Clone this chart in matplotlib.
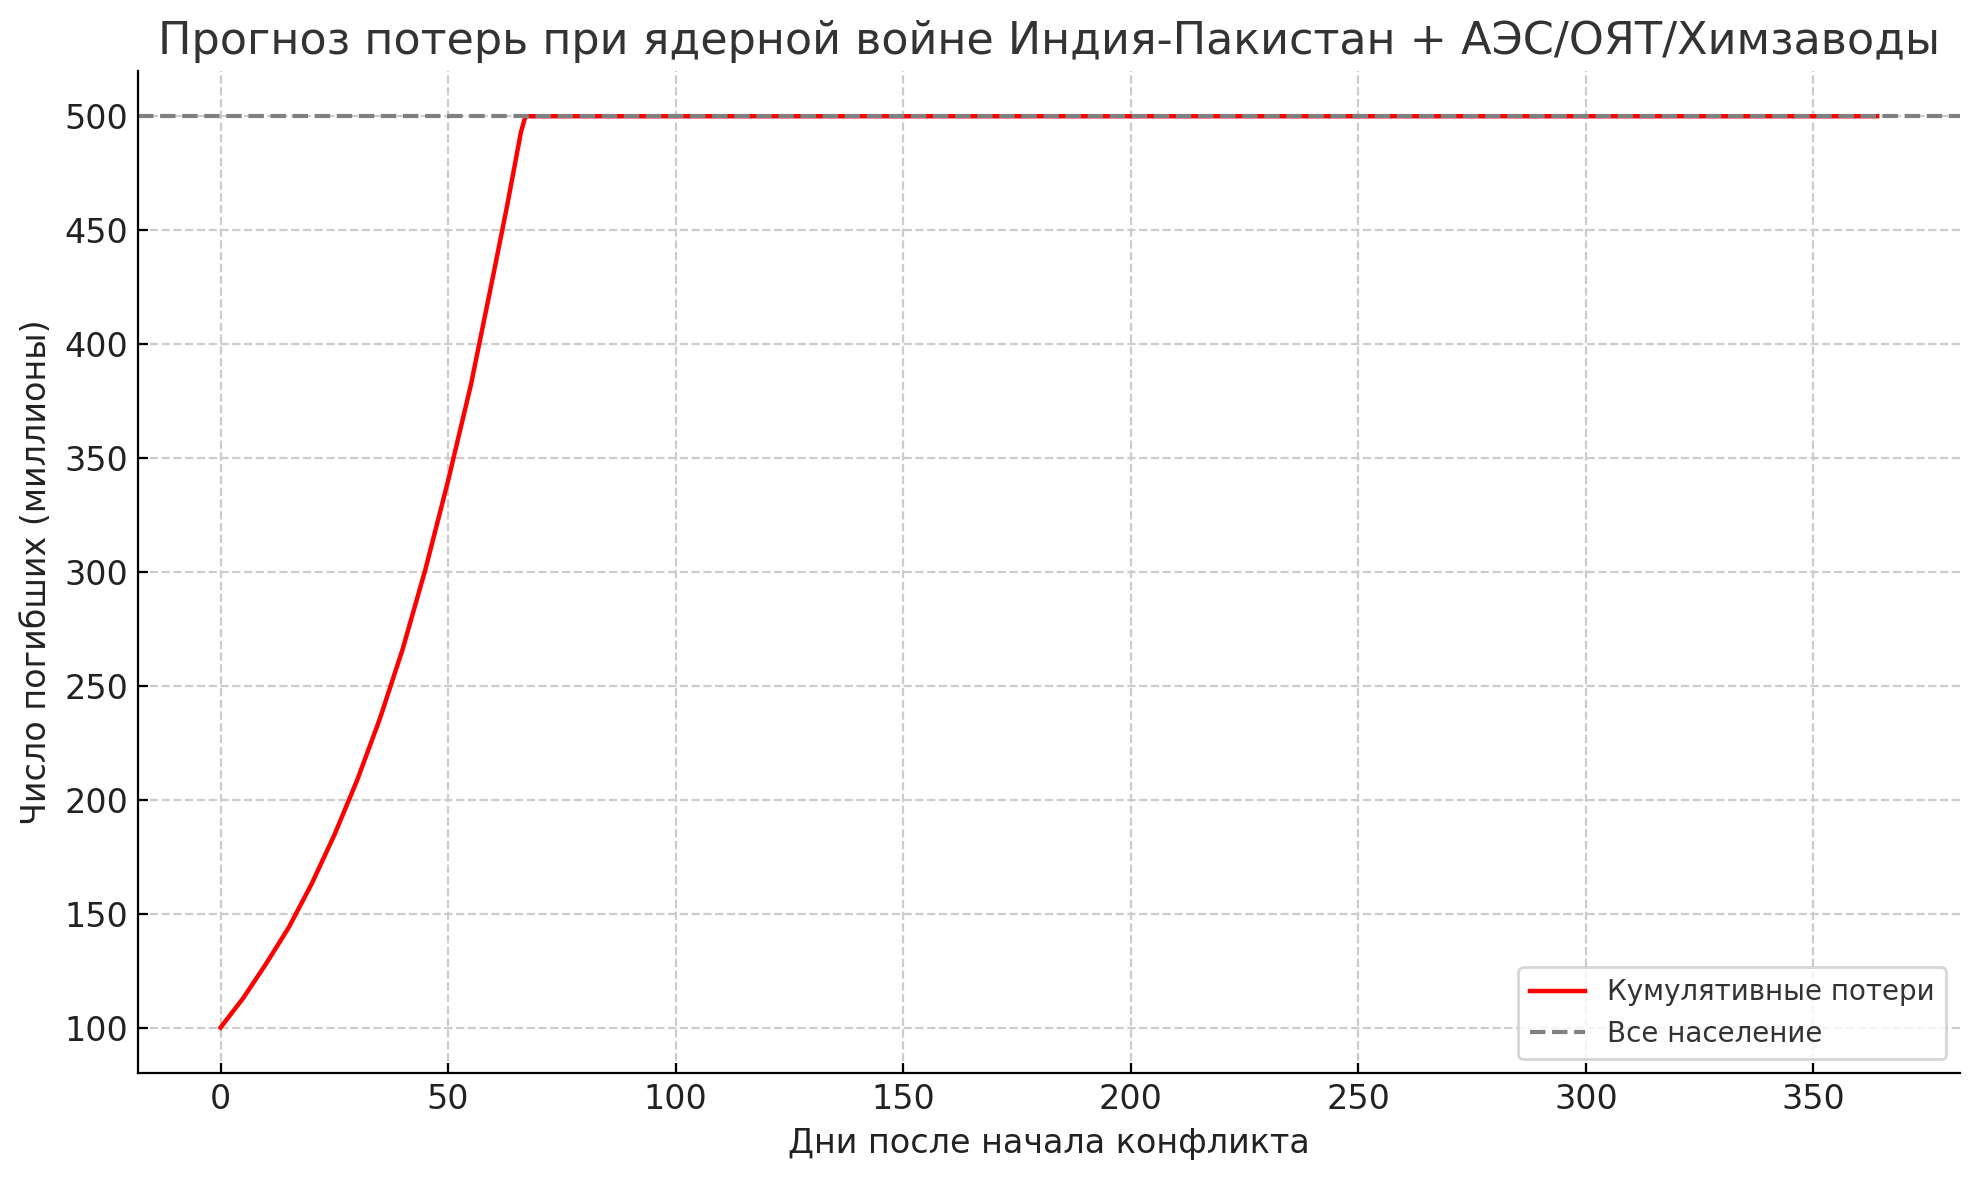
import matplotlib.pyplot as plt
import numpy as np

# values (days, cumulative deaths in millions)
days = [0, 5, 10, 15, 20, 25, 30, 35, 40, 45, 50, 55, 60, 63, 66, 67, 364]
deaths = [100, 113, 128, 144, 163, 184.5, 208.5, 235.5, 266, 301, 340, 382, 431, 461, 493, 500, 500]
population = 500

plt.rcParams['font.family'] = ['DejaVu Sans']

fig, ax = plt.subplots(figsize=(10, 6), dpi=200)

ax.plot(days, deaths, color='red', linewidth=1.6, label='Кумулятивные потери')
ax.axhline(population, color='gray', linestyle='--', linewidth=1.5, label='Все население')

ax.set_title('Прогноз потерь при ядерной войне Индия-Пакистан + АЭС/ОЯТ/Химзаводы', fontsize=16, color='#333333')
ax.set_xlabel('Дни после начала конфликта', fontsize=12, color='#222222')
ax.set_ylabel('Число погибших (миллионы)', fontsize=12, color='#222222')
ax.tick_params(direction='in', labelsize=12, labelcolor='#222222')

ax.grid(True, linestyle='--', color='#cccccc', linewidth=0.8)
ax.spines['top'].set_visible(False)
ax.spines['right'].set_visible(False)
ax.legend(loc='lower right', fontsize=10, labelcolor='#333333')

plt.tight_layout()
plt.savefig('out.png', dpi=200, bbox_inches='tight')
